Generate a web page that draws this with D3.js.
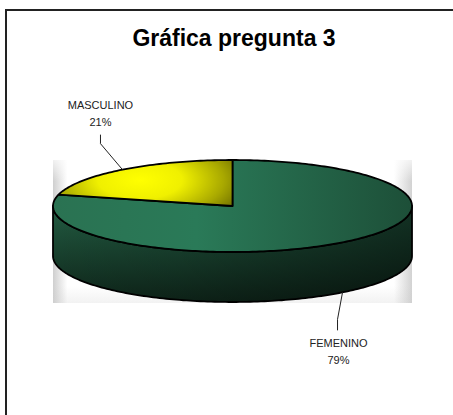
<!DOCTYPE html>
<html>
<head>
<meta charset="utf-8">
<script src="https://cdn.jsdelivr.net/npm/d3@7"></script>
<style>
  html, body { margin: 0; padding: 0; background: #fff; }
  svg { display: block; }
</style>
</head>
<body>
<svg id="chart" width="453" height="415"></svg>
<script>
const title = "Gráfica pregunta 3";
const categories = ["FEMENINO", "MASCULINO"];
const values = [79, 21];
const percentLabels = ["79%", "21%"];

const width = 453, height = 415;
const cx = 232.5, cy = 206, rx = 179.5, ry = 46, depth = 50;

const svg = d3.select("#chart");
const defs = svg.append("defs");

// outer frame (runs off the right and bottom edge like the reference)
svg.append("rect")
    .attr("x", 6).attr("y", 10)
    .attr("width", 470).attr("height", 430)
    .attr("fill", "#fff")
    .attr("stroke", "#222")
    .attr("stroke-width", 2);

svg.append("text")
    .attr("x", 234).attr("y", 46)
    .attr("text-anchor", "middle")
    .style("font-family", "'Liberation Sans', Arial, sans-serif")
    .style("font-weight", "bold")
    .style("font-size", "23px")
    .text(title);

// plot area background: grey fading in at the sides
const bg = defs.append("linearGradient").attr("id", "bg")
    .attr("x1", 0).attr("x2", 1).attr("y1", 0).attr("y2", 0);
bg.append("stop").attr("offset", "0%").attr("stop-color", "#cfcfcf");
bg.append("stop").attr("offset", "4%").attr("stop-color", "#ffffff");
bg.append("stop").attr("offset", "95%").attr("stop-color", "#ffffff");
bg.append("stop").attr("offset", "100%").attr("stop-color", "#d2d2d2");

const bgV = defs.append("linearGradient").attr("id", "bgV")
    .attr("x1", 0).attr("x2", 0).attr("y1", 0).attr("y2", 1);
bgV.append("stop").attr("offset", "0%").attr("stop-color", "#fff").attr("stop-opacity", 0.7);
bgV.append("stop").attr("offset", "15%").attr("stop-color", "#fff").attr("stop-opacity", 0);
bgV.append("stop").attr("offset", "88%").attr("stop-color", "#ccc").attr("stop-opacity", 0);
bgV.append("stop").attr("offset", "100%").attr("stop-color", "#ccc").attr("stop-opacity", 0.25);

svg.append("rect").attr("x", 53).attr("y", 160).attr("width", 359).attr("height", 143)
    .attr("fill", "url(#bg)");
svg.append("rect").attr("x", 53).attr("y", 160).attr("width", 359).attr("height", 143)
    .attr("fill", "url(#bgV)");

// slice gradients
const greenTop = defs.append("linearGradient").attr("id", "greenTop")
    .attr("gradientUnits", "userSpaceOnUse")
    .attr("x1", cx - rx).attr("x2", cx + rx).attr("y1", 0).attr("y2", 0);
greenTop.append("stop").attr("offset", "0%").attr("stop-color", "#2a7252");
greenTop.append("stop").attr("offset", "40%").attr("stop-color", "#2a7a58");
greenTop.append("stop").attr("offset", "100%").attr("stop-color", "#1d4f38");

const greenSide = defs.append("linearGradient").attr("id", "greenSide")
    .attr("gradientUnits", "userSpaceOnUse")
    .attr("x1", 0).attr("x2", 0).attr("y1", cy).attr("y2", cy + ry + depth);
greenSide.append("stop").attr("offset", "0%").attr("stop-color", "#225c42");
greenSide.append("stop").attr("offset", "100%").attr("stop-color", "#0e2419");

const sideShade = defs.append("linearGradient").attr("id", "sideShade")
    .attr("gradientUnits", "userSpaceOnUse")
    .attr("x1", cx - rx).attr("x2", cx + rx).attr("y1", 0).attr("y2", 0);
sideShade.append("stop").attr("offset", "0%").attr("stop-color", "#000").attr("stop-opacity", 0);
sideShade.append("stop").attr("offset", "35%").attr("stop-color", "#000").attr("stop-opacity", 0.1);
sideShade.append("stop").attr("offset", "100%").attr("stop-color", "#000").attr("stop-opacity", 0.45);

const yellowTop = defs.append("radialGradient").attr("id", "yellowTop")
    .attr("gradientUnits", "userSpaceOnUse")
    .attr("cx", 140).attr("cy", 180).attr("r", 105)
    .attr("gradientTransform", "translate(140,180) scale(1,0.45) translate(-140,-180)");
yellowTop.append("stop").attr("offset", "0%").attr("stop-color", "#ffff00");
yellowTop.append("stop").attr("offset", "40%").attr("stop-color", "#f0f000");
yellowTop.append("stop").attr("offset", "80%").attr("stop-color", "#a8a800");
yellowTop.append("stop").attr("offset", "100%").attr("stop-color", "#7a7a00");

const topFill = ["url(#greenTop)", "url(#yellowTop)"];

// ellipse projection of the pie
const xs = d3.scaleLinear().domain([-1, 1]).range([cx - rx, cx + rx]);
const ys = d3.scaleLinear().domain([-1, 1]).range([cy - ry, cy + ry]);
const pt = (a, dy = 0) => [xs(Math.sin(a)), ys(-Math.cos(a)) + dy];
const arcPts = (a0, a1, dy = 0) => {
    const n = Math.max(2, Math.ceil(Math.abs(a1 - a0) / 0.02));
    return d3.range(n + 1).map(i => pt(a0 + (a1 - a0) * i / n, dy));
};
const line = d3.line();

const pie = d3.pie().sort(null).startAngle(0).endAngle(2 * Math.PI);
const arcs = pie(values).map((d, i) => ({ ...d, name: categories[i], pct: percentLabels[i] }));

// front sides
const sides = svg.append("g").attr("class", "sides");
arcs.forEach(d => {
    const a0 = Math.max(d.startAngle, Math.PI / 2);
    const a1 = Math.min(d.endAngle, 3 * Math.PI / 2);
    if (a1 <= a0) return;
    const p = line(arcPts(a0, a1).concat(arcPts(a1, a0, depth))) + "Z";
    sides.append("path").attr("d", p).attr("fill", "url(#greenSide)");
    sides.append("path").attr("d", p).attr("fill", "url(#sideShade)")
        .attr("stroke", "#000").attr("stroke-width", 1.8).attr("stroke-linejoin", "round");
});

// top faces
svg.append("g").attr("class", "tops")
    .selectAll("path")
    .data(arcs)
    .join("path")
    .attr("d", d => line([[cx, cy], ...arcPts(d.startAngle, d.endAngle), [cx, cy]]) + "Z")
    .attr("fill", (d, i) => topFill[i])
    .attr("stroke", "#000")
    .attr("stroke-width", 1.8)
    .attr("stroke-linejoin", "round");

// labels with leader lines
const labelLayout = [
    { elbow: [-5, 27], end: [-5, 38], text: [-4, 55] },
    { elbow: [-22, -26], end: [-22, -35], text: [-22, -61] }
];
const labels = svg.append("g").attr("class", "labels")
    .style("font-family", "'Liberation Sans', Arial, sans-serif")
    .style("font-size", "11px");
arcs.forEach((d, i) => {
    const mid = (d.startAngle + d.endAngle) / 2;
    const front = Math.cos(mid) < 0;
    const [ex, ey] = pt(mid, front ? depth : 0);
    const L = labelLayout[i];
    labels.append("path")
        .attr("d", line([[ex, ey], [ex + L.elbow[0], ey + L.elbow[1]], [ex + L.end[0], ey + L.end[1]]]))
        .attr("fill", "none").attr("stroke", "#222").attr("stroke-width", 1);
    const t = labels.append("text")
        .attr("text-anchor", "middle")
        .attr("x", ex + L.text[0]).attr("y", ey + L.text[1])
        .attr("fill", "#222");
    t.append("tspan").attr("x", ex + L.text[0]).text(d.name);
    t.append("tspan").attr("x", ex + L.text[0]).attr("dy", 17).text(d.pct);
});
</script>
</body>
</html>
